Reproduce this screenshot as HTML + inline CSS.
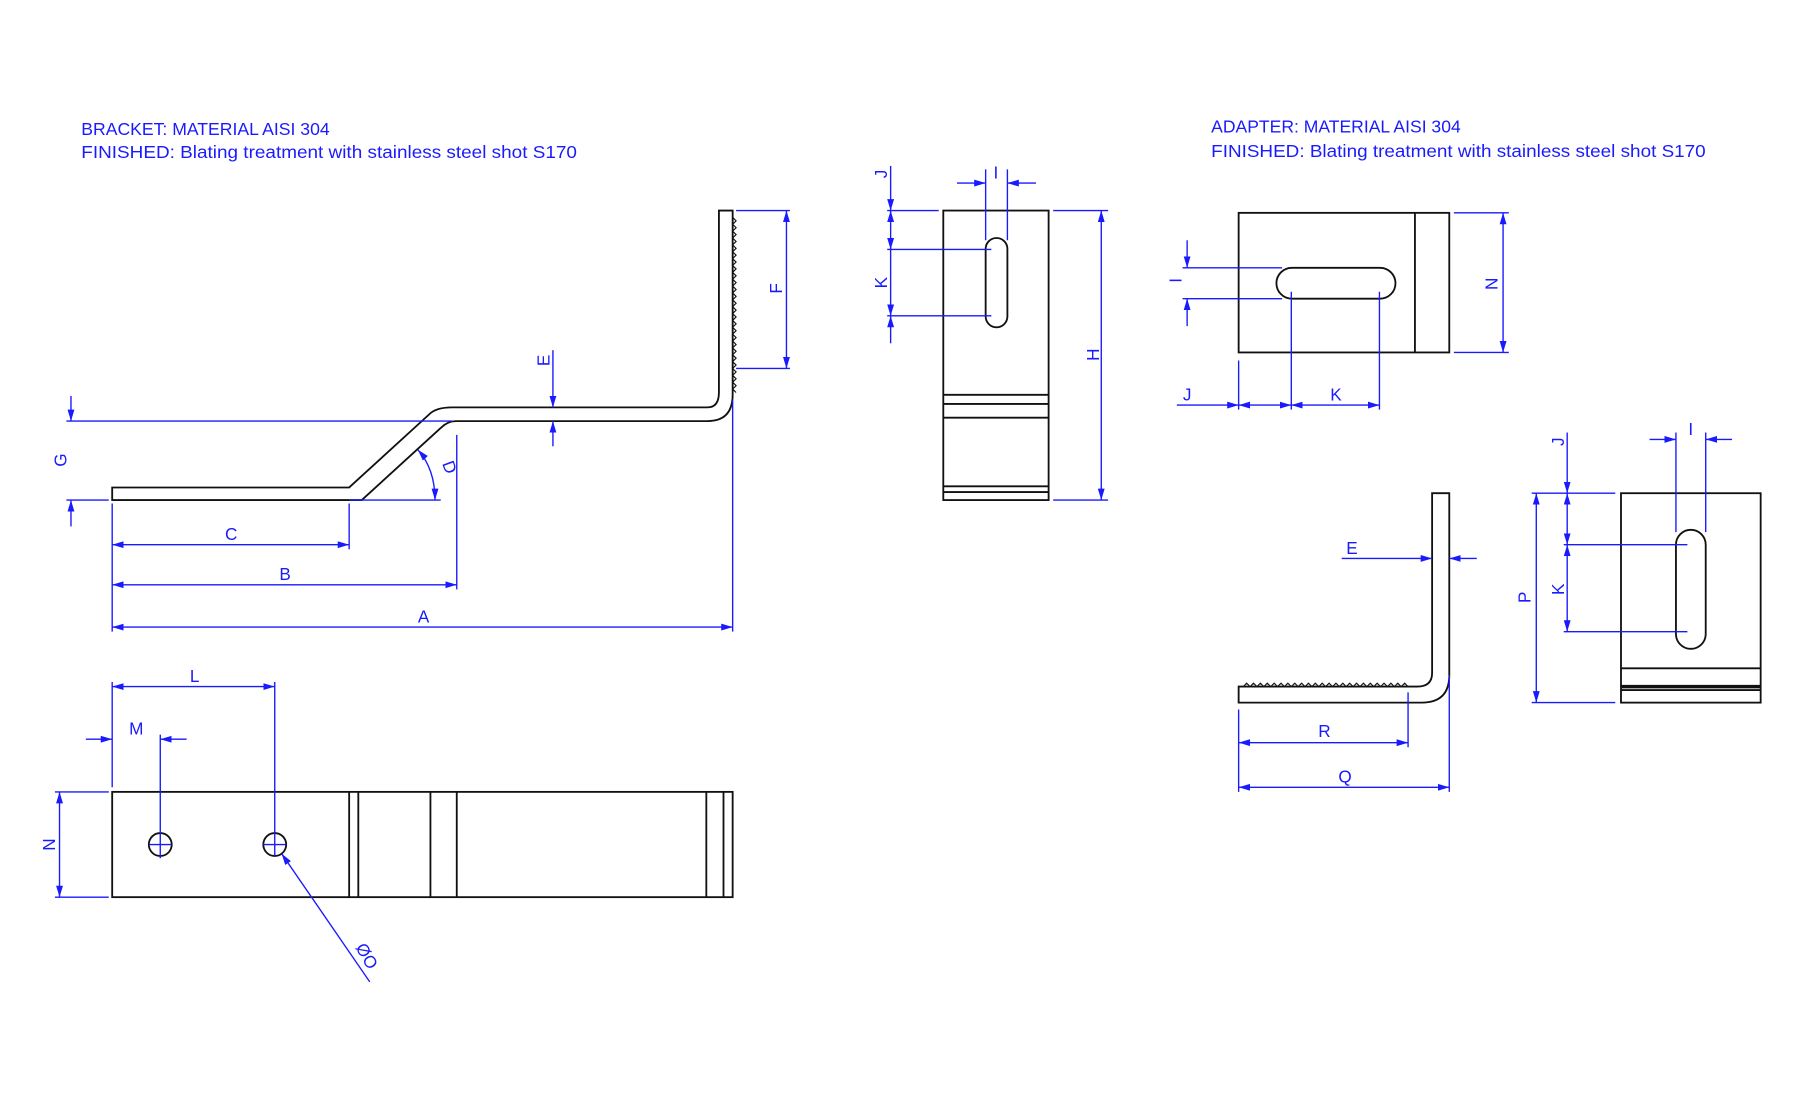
<!DOCTYPE html>
<html><head><meta charset="utf-8"><style>
html,body{margin:0;padding:0;background:#fff;}
svg{display:block;}
text{font-family:"Liberation Sans",sans-serif;fill:#1a1aff;}
</style></head><body>
<svg width="1795" height="1110" viewBox="0 0 1568 970" preserveAspectRatio="none" xmlns="http://www.w3.org/2000/svg">
<defs>
<marker id="a" viewBox="0 0 10 6" refX="10" refY="3" markerWidth="10" markerHeight="6" markerUnits="userSpaceOnUse" orient="auto-start-reverse"><path d="M0,0 L10,3 L0,6 Z" fill="#1a1aff"/></marker>
</defs>
<text x="71" y="118" font-size="15" textLength="217" lengthAdjust="spacingAndGlyphs">BRACKET: MATERIAL AISI 304</text>
<text x="71" y="138" font-size="15" textLength="433" lengthAdjust="spacingAndGlyphs">FINISHED: Blating treatment with stainless steel shot S170</text>
<text x="1058" y="116" font-size="15" textLength="218" lengthAdjust="spacingAndGlyphs">ADAPTER: MATERIAL AISI 304</text>
<text x="1058" y="137" font-size="15" textLength="432" lengthAdjust="spacingAndGlyphs">FINISHED: Blating treatment with stainless steel shot S170</text>

<g fill="none" stroke="#111" stroke-width="1.6">
<path d="M98,426 L305,426 L375,362 Q381,356 395,356 L618,356 Q628,356 628,343 L628,184 L640,184 L640,345 Q640,368 618,368 L398,368 Q391,368 385,374 L316,437 L98,437 Z"/>
<rect x="98" y="692" width="542" height="92"/>
<path d="M305,692V784M313,692V784M376,692V784M399,692V784M617,692V784M632,692V784"/>
<circle cx="140" cy="738" r="10"/><circle cx="240" cy="738" r="10"/>
<rect x="824" y="184" width="92" height="253"/>
<path d="M824,345H916M824,353H916M824,365H916M824,425H916M824,430H916"/>
<rect x="861" y="208" width="19" height="78" rx="9.5"/>
<rect x="1082" y="186" width="184" height="122"/>
<path d="M1236,186V308"/>
<rect x="1115" y="234" width="104" height="27" rx="13.5"/>
<path d="M1251,431 L1266,431 L1266,590 Q1266,614 1242,614 L1082,614 L1082,600 L1238,600 Q1251,600 1251,588 Z"/>
<rect x="1416" y="431" width="122" height="183"/>
<path d="M1416,584H1538M1416,603H1538"/>
<path d="M1416,600H1538" stroke-width="3"/>
<rect x="1464" y="463" width="26" height="104" rx="13"/>
</g>
<path d="M640,190 l3,3 l-3,3 l3,3 l-3,3 l3,3 l-3,3 l3,3 l-3,3 l3,3 l-3,3 l3,3 l-3,3 l3,3 l-3,3 l3,3 l-3,3 l3,3 l-3,3 l3,3 l-3,3 l3,3 l-3,3 l3,3 l-3,3 l3,3 l-3,3 l3,3 l-3,3 l3,3 l-3,3 l3,3 l-3,3 l3,3 l-3,3 l3,3 l-3,3 l3,3 l-3,3 l3,3 l-3,3 l3,3 l-3,3 l3,3 l-3,3 l3,3 l-3,3 l3,3 l-3,3 l3,3 l-3,3 l3,3" fill="none" stroke="#111" stroke-width="1"/>
<path d="M1086,600 l3,-3 l3,3 l3,-3 l3,3 l3,-3 l3,3 l3,-3 l3,3 l3,-3 l3,3 l3,-3 l3,3 l3,-3 l3,3 l3,-3 l3,3 l3,-3 l3,3 l3,-3 l3,3 l3,-3 l3,3 l3,-3 l3,3 l3,-3 l3,3 l3,-3 l3,3 l3,-3 l3,3 l3,-3 l3,3 l3,-3 l3,3 l3,-3 l3,3 l3,-3 l3,3 l3,-3 l3,3 l3,-3 l3,3 l3,-3 l3,3 l3,-3 l3,3 l3,-3 l3,3" fill="none" stroke="#111" stroke-width="1"/>

<g fill="none" stroke="#1a1aff" stroke-width="1.2">
<path d="M58,368H395M58,437H95M305,437H385M98,440V552M305,440V480M399,380V515M640,350V552M643,184H690M643,322H690"/>
<path d="M98,596V688M240,596V730M140,642V750M48,692H95M48,784H95M130,738H150M140,728V748M230,738H250M240,728V748"/>
<path d="M861,148V210M880,148V210M775,184H820M775,218H866M775,276H866M920,184H968M920,437H968"/>
<path d="M1033,234H1120M1033,261H1120M1270,186H1318M1270,308H1318M1082,315V358M1128,255V358M1205,255V358"/>
<path d="M1082,620V692M1230,605V653M1266,590V692"/>
<path d="M1464,378V465M1490,378V465M1366,431H1411M1366,476H1474M1366,552H1474M1338,431H1411M1338,614H1411"/>
</g>
<g fill="none" stroke="#1a1aff" stroke-width="1.2" marker-end="url(#a)">
<path d="M62,346V368"/><path d="M62,460V437"/>
<path d="M98,476H305" marker-start="url(#a)"/>
<path d="M98,511H399" marker-start="url(#a)"/>
<path d="M98,548H640" marker-start="url(#a)"/>
<path d="M483,306V356"/><path d="M483,390V368"/>
<path d="M687,184V322" marker-start="url(#a)"/>
<path d="M365,393 Q380,410 380,437" marker-start="url(#a)"/>
<path d="M98,600H240" marker-start="url(#a)"/>
<path d="M75,646H98"/><path d="M163,646H140"/>
<path d="M52,692V784" marker-start="url(#a)"/>
<path d="M323,858L246,746"/>
<path d="M836,160H861"/><path d="M905,160H880"/>
<path d="M778,145V184"/><path d="M778,184V218" marker-start="url(#a)"/><path d="M778,218V276"/><path d="M778,300V276"/>
<path d="M962,184V437" marker-start="url(#a)"/>
<path d="M1037,210V234"/><path d="M1037,285V261"/>
<path d="M1313,186V308" marker-start="url(#a)"/>
<path d="M1028,354H1082"/><path d="M1082,354H1128" marker-start="url(#a)"/><path d="M1128,354H1205" marker-start="url(#a)"/>
<path d="M1172,488H1251"/><path d="M1290,488H1266"/>
<path d="M1082,649H1230" marker-start="url(#a)"/>
<path d="M1082,688H1266" marker-start="url(#a)"/>
<path d="M1441,384H1464"/><path d="M1513,384H1490"/>
<path d="M1369,378V431"/><path d="M1369,431V476" marker-start="url(#a)"/><path d="M1369,476V552" marker-start="url(#a)"/>
<path d="M1342,431V614" marker-start="url(#a)"/>
</g>
<g font-size="15" text-anchor="middle">
<text x="202" y="472">C</text><text x="249" y="507">B</text><text x="370" y="544">A</text>
<text x="170" y="596">L</text><text x="119" y="642">M</text>
<text x="1167" y="350">K</text><text x="1037" y="350">J</text>
<text x="1181" y="484">E</text><text x="1157" y="644">R</text><text x="1175" y="684">Q</text>
<text x="870" y="156">I</text><text x="1477" y="380">I</text>
<text transform="translate(58,402) rotate(-90)">G</text>
<text transform="translate(48,738) rotate(-90)">N</text>
<text transform="translate(480,315) rotate(-90)">E</text>
<text transform="translate(683,252) rotate(-90)">F</text>
<text transform="translate(388,410) rotate(70)">D</text>
<text transform="translate(775,152) rotate(-90)">J</text>
<text transform="translate(775,247) rotate(-90)">K</text>
<text transform="translate(960,310) rotate(-90)">H</text>
<text transform="translate(1032,245) rotate(-90)">I</text>
<text transform="translate(1308,248) rotate(-90)">N</text>
<text transform="translate(1366,386) rotate(-90)">J</text>
<text transform="translate(1366,515) rotate(-90)">K</text>
<text transform="translate(1337,522) rotate(-90)">P</text>
<text transform="translate(316,838) rotate(60)">ØO</text>
</g>
</svg>
</body></html>
